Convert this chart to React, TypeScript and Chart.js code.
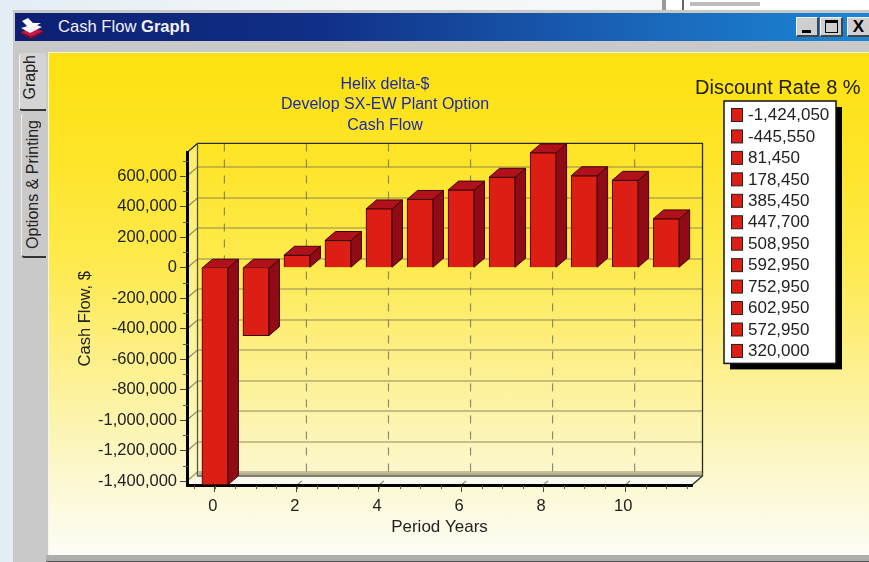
import React, { useEffect, useRef } from "react";
import { Chart, registerables } from "chart.js";

Chart.register(...registerables);

const periods = [0, 1, 2, 3, 4, 5, 6, 7, 8, 9, 10, 11];
const cashFlow = [-1424050, -445550, 81450, 178450, 385450, 447700, 508950, 592950, 752950, 602950, 572950, 320000];
const yTicks = [600000, 400000, 200000, 0, -200000, -400000, -600000, -800000, -1000000, -1200000, -1400000];
const xTicks = [0, 2, 4, 6, 8, 10];
const titleLines = ["Helix delta-$", "Develop SX-EW Plant Option", "Cash Flow"];
const legendTitle = "Discount Rate 8 %";
const FONT = "'Liberation Sans', Arial, sans-serif";
const DX = 10.5;
const DY = -9;

const fmt = (v: number) => v.toLocaleString("en-US");

const poly = (ctx: CanvasRenderingContext2D, pts: number[][], fill?: string, stroke?: string) => {
  ctx.beginPath();
  pts.forEach((p, i) => (i ? ctx.lineTo(p[0], p[1]) : ctx.moveTo(p[0], p[1])));
  ctx.closePath();
  if (fill) { ctx.fillStyle = fill; ctx.fill(); }
  if (stroke) { ctx.strokeStyle = stroke; ctx.lineWidth = 1; ctx.stroke(); }
};

const scene3d = {
  id: "scene3d",
  afterLayout(chart: any) {
    // the three title lines are centred over the left part of the panel
    chart.titleBlock.left = 0;
    chart.titleBlock.right = 770;
  },
  beforeDraw(chart: any) {
    const { ctx, chartArea: a, scales } = chart;
    const { left: l, right: r, top: t, bottom: b } = a;
    ctx.save();
    // floor and left wall
    poly(ctx, [[l, b], [r, b], [r + DX, b + DY], [l + DX, b + DY]], "#fbfaf0");
    poly(ctx, [[l, b], [l + DX, b + DY], [l + DX, t + DY], [l, t]], "rgba(255,250,190,0.45)");
    // horizontal grid on back wall and left wall
    ctx.lineWidth = 1.2;
    ctx.strokeStyle = "rgba(125,120,85,0.85)";
    yTicks.forEach((v) => {
      const y = Math.round(scales.y.getPixelForValue(v));
      ctx.beginPath();
      ctx.moveTo(l, y);
      ctx.lineTo(l + DX, y + DY);
      ctx.lineTo(r + DX, y + DY);
      ctx.stroke();
    });
    // vertical dashed grid on back wall, slanted marks on the floor
    xTicks.forEach((v) => {
      const x = scales.x.getPixelForValue(v);
      ctx.setLineDash([8, 8]);
      ctx.strokeStyle = "rgba(115,115,95,0.8)";
      ctx.beginPath();
      ctx.moveTo(x + DX - 1, t + DY);
      ctx.lineTo(x + DX - 1, b + DY);
      ctx.stroke();
      ctx.setLineDash([]);
      ctx.beginPath();
      ctx.moveTo(x, b);
      ctx.lineTo(x + 5, b - 4);
      ctx.stroke();
    });
    // back wall frame
    ctx.strokeStyle = "#2b2b1a";
    ctx.lineWidth = 1.3;
    ctx.beginPath();
    ctx.moveTo(l, t);
    ctx.lineTo(l + DX, t + DY);
    ctx.lineTo(r + DX, t + DY);
    ctx.lineTo(r + DX, b + DY);
    ctx.lineTo(r, b);
    ctx.stroke();
    ctx.strokeStyle = "#55554a";
    ctx.beginPath();
    ctx.moveTo(l + DX, t + DY);
    ctx.lineTo(l + DX, b + DY);
    ctx.lineTo(r + DX, b + DY);
    ctx.stroke();
    ctx.strokeStyle = "rgba(130,130,100,0.8)";
    ctx.beginPath();
    ctx.moveTo(l + DX + 1, b + DY - 2);
    ctx.lineTo(r + DX, b + DY - 2);
    ctx.stroke();
    ctx.restore();
  },
  beforeDatasetsDraw(chart: any) {
    const { ctx } = chart;
    ctx.save();
    chart.getDatasetMeta(0).data.forEach((bar: any) => {
      const half = bar.width / 2;
      const x0 = bar.x - half;
      const x1 = bar.x + half;
      const top = Math.min(bar.y, bar.base);
      const bot = Math.max(bar.y, bar.base);
      const edge = "#3c0508";
      poly(ctx, [[x1, top], [x1 + DX, top + DY], [x1 + DX, bot + DY], [x1, bot]], "#900b16", edge);
      poly(ctx, [[x0, top], [x0 + DX, top + DY], [x1 + DX, top + DY], [x1, top]], "#b0111a", edge);
    });
    ctx.restore();
  },
  afterDraw(chart: any) {
    const { ctx, chartArea: a, scales } = chart;
    ctx.save();
    // minor ticks
    ctx.strokeStyle = "#5a5a50";
    ctx.lineWidth = 1;
    for (let i = 0; i < periods.length * 2 + 1; i++) {
      const x = Math.round(scales.x.getPixelForValue(-0.5 + i / 2)) + 0.5;
      if (x > a.right) break;
      ctx.beginPath();
      ctx.moveTo(x, a.bottom + 1);
      ctx.lineTo(x, a.bottom + 4);
      ctx.stroke();
    }
    yTicks.forEach((v) => {
      const y = Math.round(scales.y.getPixelForValue(v + 100000)) + 0.5;
      if (y < a.top) return;
      ctx.beginPath();
      ctx.moveTo(a.left - 4, y);
      ctx.lineTo(a.left + 1, y);
      ctx.stroke();
    });
    // legend: title, shadowed white box, one swatch per value
    const bx = 724, by = 101, bw = 112, rowH = 21.45;
    const bh = rowH * cashFlow.length + 5;
    ctx.fillStyle = "#20200f";
    ctx.font = `20px ${FONT}`;
    ctx.textAlign = "left";
    ctx.textBaseline = "middle";
    ctx.fillText(legendTitle, 695, 88);
    ctx.fillStyle = "#000";
    ctx.fillRect(bx + 6, by + 6, bw, bh);
    ctx.fillStyle = "#fff";
    ctx.fillRect(bx, by, bw, bh);
    ctx.strokeStyle = "#151515";
    ctx.lineWidth = 1.5;
    ctx.strokeRect(bx, by, bw, bh);
    ctx.font = `17px ${FONT}`;
    cashFlow.forEach((v, i) => {
      const cy = by + 14 + i * rowH;
      ctx.fillStyle = "#dc1e14";
      ctx.fillRect(731.5, cy - 6.5, 11, 13);
      ctx.strokeStyle = "#222";
      ctx.lineWidth = 1;
      ctx.strokeRect(731.5, cy - 6.5, 11, 13);
      ctx.fillStyle = "#222";
      ctx.fillText(fmt(v), 748, cy + 0.5);
    });
    ctx.restore();
  },
};

const btn = (left: number, width: number): React.CSSProperties => ({
  position: "absolute",
  left,
  top: 17,
  width,
  height: 20,
  background: "#cfcfcf",
  borderTop: "1px solid #f2f2f2",
  borderLeft: "1px solid #f2f2f2",
  borderRight: "2px solid #444",
  borderBottom: "2px solid #444",
  boxSizing: "border-box",
});

export default function App() {
  const ref = useRef<HTMLCanvasElement>(null);

  useEffect(() => {
    document.body.style.margin = "0";
    const chart = new Chart(ref.current as HTMLCanvasElement, {
      type: "bar",
      data: {
        datasets: [
          {
            label: "Cash Flow, $",
            data: periods.map((p, i) => ({ x: p, y: cashFlow[i] })),
            backgroundColor: "#dc1e14",
            borderColor: "#3c0508",
            borderWidth: 1,
            barThickness: 26,
            clip: false,
          } as any,
        ],
      },
      options: {
        responsive: false,
        animation: false,
        layout: { padding: { left: 0, right: 177, top: 0, bottom: 0 } },
        plugins: {
          legend: { display: false },
          tooltip: { enabled: false },
          title: {
            display: true,
            text: titleLines,
            color: "#1c2aa8",
            font: { family: FONT, size: 16, weight: "normal", lineHeight: 1.28 },
            padding: { top: 74, bottom: 17 },
          },
        },
        scales: {
          x: {
            type: "linear",
            offset: false,
            min: -0.68,
            max: 11.63,
            afterBuildTicks: (s: any) => { s.ticks = xTicks.map((value) => ({ value })); },
            afterFit: (s: any) => { s.height = 77; },
            grid: { display: true, offset: false, drawOnChartArea: false, drawTicks: true, tickLength: 7, color: "#444" },
            border: { display: true, width: 3, color: "#000" },
            ticks: { color: "#222", padding: 5, labelOffset: -2, maxRotation: 0, font: { family: FONT, size: 16.5 }, callback: (v: any) => String(v) },
            title: { display: true, text: "Period Years", color: "#222", font: { family: FONT, size: 17 }, padding: { top: 0, bottom: 24 } },
          },
          y: {
            type: "linear",
            min: -1425000,
            max: 756000,
            afterBuildTicks: (s: any) => { s.ticks = yTicks.map((value) => ({ value })); },
            afterFit: (s: any) => { s.width = 187; },
            grid: { display: true, drawOnChartArea: false, drawTicks: true, tickLength: 7, color: "#444" },
            border: { display: true, width: 3, color: "#000" },
            ticks: { color: "#222", padding: 3, autoSkip: false, font: { family: FONT, size: 16.5 }, callback: (v: any) => fmt(Number(v)) },
            title: { display: true, text: "Cash Flow, $", color: "#222", font: { family: FONT, size: 16.5 }, padding: { top: 76, bottom: 0 } },
          },
        },
      } as any,
      plugins: [scene3d as any],
    });
    return () => chart.destroy();
  }, []);

  const tabText: React.CSSProperties = {
    position: "absolute",
    writingMode: "vertical-rl",
    transform: "rotate(180deg)",
    fontFamily: FONT,
    fontSize: 16,
    color: "#222",
    whiteSpace: "nowrap",
  };

  return (
    <div style={{ position: "absolute", left: 0, top: 0, width: 869, height: 562, overflow: "hidden", background: "linear-gradient(90deg,#e3edf4,#f4f7f9 40%,#f7f9fb)" }}>
      {/* paper sliver behind the window */}
      <div style={{ position: "absolute", left: 662, top: 0, width: 207, height: 10, background: "#fff", borderLeft: "4px solid #9a9a9a" }} />
      <div style={{ position: "absolute", left: 682, top: 0, width: 2, height: 10, background: "#666" }} />
      <div style={{ position: "absolute", left: 690, top: 2, width: 70, height: 4, background: "#bbb" }} />
      {/* window frame */}
      <div style={{ position: "absolute", left: 13, top: 10, width: 856, height: 552, background: "#c9c9c9" }} />
      <div style={{ position: "absolute", left: 15, top: 13, width: 854, height: 28, background: "linear-gradient(90deg,#0c1f73 0%,#102f86 35%,#1a68bb 75%,#1b86d6 100%)" }} />
      <svg style={{ position: "absolute", left: 19, top: 16 }} width="26" height="24" viewBox="0 0 26 24">
        <path d="M2 16 L14 12 L24 15 L12 21 Z" fill="#c8174a" />
        <path d="M2 12 L15 8 L23 11 L11 17 Z" fill="#f2f2f2" />
        <path d="M3 5 L9 2 L14 7 L22 7 L11 13 Z" fill="#ffffff" />
        <path d="M2 18 L12 23 L24 17 L24 15 L12 21 L2 16 Z" fill="#7c0c2c" />
      </svg>
      <div style={{ position: "absolute", left: 58, top: 17, fontFamily: FONT, fontSize: 16.6, color: "#f1f1f6", whiteSpace: "pre" }}>
        Cash Flow <b>Graph</b>
      </div>
      <div style={btn(796, 23)}><div style={{ position: "absolute", left: 5, bottom: 2, width: 9, height: 3, background: "#000" }} /></div>
      <div style={btn(820, 23)}><div style={{ position: "absolute", left: 4, top: 2, width: 13, height: 13, border: "1.5px solid #000", borderTopWidth: 3, boxSizing: "border-box" }} /></div>
      <div style={{ ...btn(847, 24), fontFamily: FONT, fontSize: 17, fontWeight: "bold", textAlign: "center", lineHeight: "17px", color: "#000" }}>X</div>
      {/* tabs */}
      <div style={{ position: "absolute", left: 19, top: 53, width: 27, height: 58, background: "#d4d4d4", borderLeft: "1px solid #f4f4f4", borderBottom: "2px solid #333", borderRadius: "4px 0 0 4px", boxSizing: "border-box" }} />
      <div style={{ position: "absolute", left: 21, top: 113, width: 25, height: 145, background: "#c9c9c9", borderLeft: "1px solid #f0f0f0", borderBottom: "2px solid #333", borderRadius: "4px 0 0 4px", boxSizing: "border-box" }} />
      <div style={{ ...tabText, left: 21, top: 55 }}>Graph</div>
      <div style={{ ...tabText, left: 24, top: 120 }}>Options &amp; Printing</div>
      {/* yellow panel */}
      <div style={{ position: "absolute", left: 48, top: 52, width: 821, height: 503, borderTop: "1px solid #f4f4f4", borderLeft: "1px solid #f4f4f4", boxSizing: "border-box", background: "linear-gradient(180deg,#fde10f 0%,#fee52a 22%,#feea4e 42%,#fdf08c 62%,#fcf7c8 82%,#fdfdf6 100%)" }} />
      <div style={{ position: "absolute", left: 46, top: 555, width: 823, height: 6, background: "#aeaeae" }} />
      <div style={{ position: "absolute", left: 46, top: 561, width: 823, height: 1, background: "#555" }} />
      <canvas ref={ref} width={869} height={562} style={{ position: "absolute", left: 0, top: 0, width: 869, height: 562 }} />
    </div>
  );
}
